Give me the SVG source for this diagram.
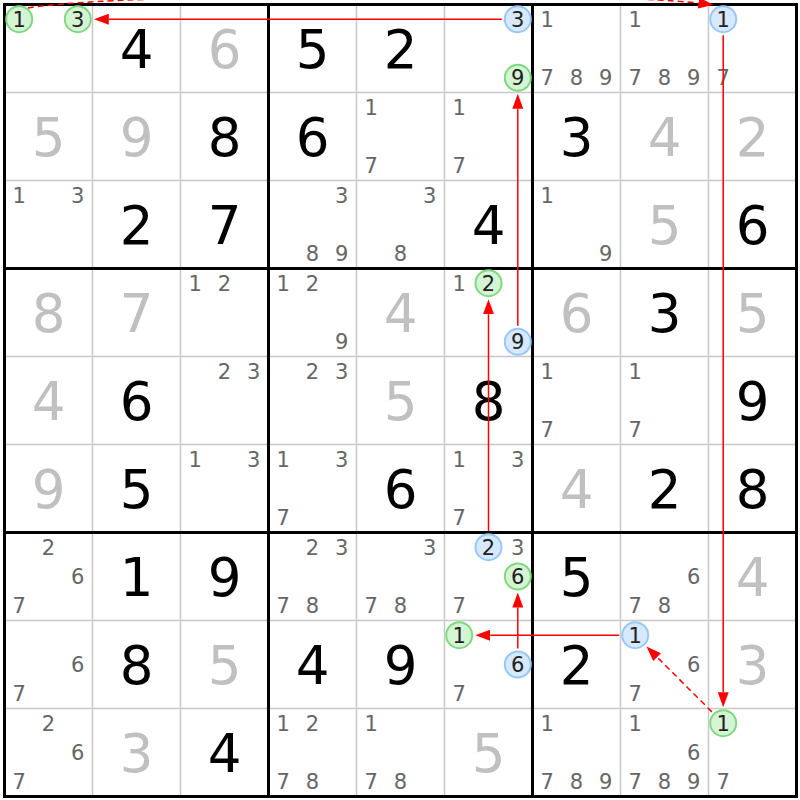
<svg xmlns="http://www.w3.org/2000/svg" width="800" height="800" viewBox="0 0 800 800">
<style>
.thin{stroke:#c8c8c8;stroke-width:1.5}
.thick{stroke:#000;stroke-width:3}
text{font-family:"DejaVu Sans",Verdana,sans-serif;text-anchor:middle}
.g{font-size:53px;fill:#000}
.s{font-size:53px;fill:#c0c0c0}
.c{font-size:21px;fill:#666}
.h{font-size:21px;fill:#222}
.cg{fill:#d4f4d4;stroke:#80d880;stroke-width:2}
.cb{fill:#d6e9ff;stroke:#99c8f8;stroke-width:2}
.link{stroke:#f00;stroke-width:1.5;fill:none;marker-end:url(#ah)}
.weak{stroke-dasharray:6 4}
</style>
<defs>
<marker id="ah" markerUnits="userSpaceOnUse" markerWidth="15" markerHeight="11" viewBox="0 0 15 11" refX="0" refY="5.5" orient="auto"><path d="M0,0 L15,5.5 L0,11 z" fill="#f00"/></marker>
</defs>
<rect x="0" y="0" width="800" height="800" fill="#fff"/>
<g id="grid">
<g class="thin">
<line x1="92.5" y1="4.5" x2="92.5" y2="796.5"/><line x1="180.5" y1="4.5" x2="180.5" y2="796.5"/>
<line x1="356.5" y1="4.5" x2="356.5" y2="796.5"/><line x1="444.5" y1="4.5" x2="444.5" y2="796.5"/>
<line x1="620.5" y1="4.5" x2="620.5" y2="796.5"/><line x1="708.5" y1="4.5" x2="708.5" y2="796.5"/>
<line y1="92.5" x1="4.5" y2="92.5" x2="796.5"/><line y1="180.5" x1="4.5" y2="180.5" x2="796.5"/>
<line y1="356.5" x1="4.5" y2="356.5" x2="796.5"/><line y1="444.5" x1="4.5" y2="444.5" x2="796.5"/>
<line y1="620.5" x1="4.5" y2="620.5" x2="796.5"/><line y1="708.5" x1="4.5" y2="708.5" x2="796.5"/>
</g>
<g class="thick">
<line x1="268.5" y1="4.5" x2="268.5" y2="796.5"/><line x1="532.5" y1="4.5" x2="532.5" y2="796.5"/>
<line y1="268.5" x1="4.5" y2="268.5" x2="796.5"/><line y1="532.5" x1="4.5" y2="532.5" x2="796.5"/>
<rect x="4.5" y="4.5" width="792" height="792" fill="none"/>
</g>
</g>
<g id="cells">
<!-- Row 0 -->
<g id="r0c0"><circle class="cg" cx="19.2" cy="19.2" r="13"/><text class="h" x="19.2" y="26.8">1</text><circle class="cg" cx="77.8" cy="19.2" r="13"/><text class="h" x="77.8" y="26.8">3</text></g>
<g id="r0c1"><text class="g" x="136.5" y="67.8">4</text></g>
<g id="r0c2"><text class="s" x="224.5" y="67.8">6</text></g>
<g id="r0c3"><text class="g" x="312.5" y="67.8">5</text></g>
<g id="r0c4"><text class="g" x="400.5" y="67.8">2</text></g>
<g id="r0c5"><circle class="cb" cx="517.8" cy="19.2" r="13"/><text class="h" x="517.8" y="26.8">3</text><circle class="cg" cx="517.8" cy="77.8" r="13"/><text class="h" x="517.8" y="85.4">9</text></g>
<g id="r0c6"><text class="c" x="547.2" y="26.8">1</text><text class="c" x="547.2" y="85.4">7</text><text class="c" x="576.5" y="85.4">8</text><text class="c" x="605.8" y="85.4">9</text></g>
<g id="r0c7"><text class="c" x="635.2" y="26.8">1</text><text class="c" x="635.2" y="85.4">7</text><text class="c" x="664.5" y="85.4">8</text><text class="c" x="693.8" y="85.4">9</text></g>
<g id="r0c8"><circle class="cb" cx="723.2" cy="19.2" r="13"/><text class="h" x="723.2" y="26.8">1</text><text class="c" x="723.2" y="85.4">7</text></g>
<!-- Row 1 -->
<g id="r1c0"><text class="s" x="48.5" y="155.8">5</text></g>
<g id="r1c1"><text class="s" x="136.5" y="155.8">9</text></g>
<g id="r1c2"><text class="g" x="224.5" y="155.8">8</text></g>
<g id="r1c3"><text class="g" x="312.5" y="155.8">6</text></g>
<g id="r1c4"><text class="c" x="371.2" y="114.8">1</text><text class="c" x="371.2" y="173.4">7</text></g>
<g id="r1c5"><text class="c" x="459.2" y="114.8">1</text><text class="c" x="459.2" y="173.4">7</text></g>
<g id="r1c6"><text class="g" x="576.5" y="155.8">3</text></g>
<g id="r1c7"><text class="s" x="664.5" y="155.8">4</text></g>
<g id="r1c8"><text class="s" x="752.5" y="155.8">2</text></g>
<!-- Row 2 -->
<g id="r2c0"><text class="c" x="19.2" y="202.8">1</text><text class="c" x="77.8" y="202.8">3</text></g>
<g id="r2c1"><text class="g" x="136.5" y="243.8">2</text></g>
<g id="r2c2"><text class="g" x="224.5" y="243.8">7</text></g>
<g id="r2c3"><text class="c" x="341.8" y="202.8">3</text><text class="c" x="312.5" y="261.4">8</text><text class="c" x="341.8" y="261.4">9</text></g>
<g id="r2c4"><text class="c" x="429.8" y="202.8">3</text><text class="c" x="400.5" y="261.4">8</text></g>
<g id="r2c5"><text class="g" x="488.5" y="243.8">4</text></g>
<g id="r2c6"><text class="c" x="547.2" y="202.8">1</text><text class="c" x="605.8" y="261.4">9</text></g>
<g id="r2c7"><text class="s" x="664.5" y="243.8">5</text></g>
<g id="r2c8"><text class="g" x="752.5" y="243.8">6</text></g>
<!-- Row 3 -->
<g id="r3c0"><text class="s" x="48.5" y="331.8">8</text></g>
<g id="r3c1"><text class="s" x="136.5" y="331.8">7</text></g>
<g id="r3c2"><text class="c" x="195.2" y="290.8">1</text><text class="c" x="224.5" y="290.8">2</text></g>
<g id="r3c3"><text class="c" x="283.2" y="290.8">1</text><text class="c" x="312.5" y="290.8">2</text><text class="c" x="341.8" y="349.4">9</text></g>
<g id="r3c4"><text class="s" x="400.5" y="331.8">4</text></g>
<g id="r3c5"><text class="c" x="459.2" y="290.8">1</text><circle class="cg" cx="488.5" cy="283.2" r="13"/><text class="h" x="488.5" y="290.8">2</text><circle class="cb" cx="517.8" cy="341.8" r="13"/><text class="h" x="517.8" y="349.4">9</text></g>
<g id="r3c6"><text class="s" x="576.5" y="331.8">6</text></g>
<g id="r3c7"><text class="g" x="664.5" y="331.8">3</text></g>
<g id="r3c8"><text class="s" x="752.5" y="331.8">5</text></g>
<!-- Row 4 -->
<g id="r4c0"><text class="s" x="48.5" y="419.8">4</text></g>
<g id="r4c1"><text class="g" x="136.5" y="419.8">6</text></g>
<g id="r4c2"><text class="c" x="224.5" y="378.8">2</text><text class="c" x="253.8" y="378.8">3</text></g>
<g id="r4c3"><text class="c" x="312.5" y="378.8">2</text><text class="c" x="341.8" y="378.8">3</text></g>
<g id="r4c4"><text class="s" x="400.5" y="419.8">5</text></g>
<g id="r4c5"><text class="g" x="488.5" y="419.8">8</text></g>
<g id="r4c6"><text class="c" x="547.2" y="378.8">1</text><text class="c" x="547.2" y="437.4">7</text></g>
<g id="r4c7"><text class="c" x="635.2" y="378.8">1</text><text class="c" x="635.2" y="437.4">7</text></g>
<g id="r4c8"><text class="g" x="752.5" y="419.8">9</text></g>
<!-- Row 5 -->
<g id="r5c0"><text class="s" x="48.5" y="507.8">9</text></g>
<g id="r5c1"><text class="g" x="136.5" y="507.8">5</text></g>
<g id="r5c2"><text class="c" x="195.2" y="466.8">1</text><text class="c" x="253.8" y="466.8">3</text></g>
<g id="r5c3"><text class="c" x="283.2" y="466.8">1</text><text class="c" x="341.8" y="466.8">3</text><text class="c" x="283.2" y="525.4">7</text></g>
<g id="r5c4"><text class="g" x="400.5" y="507.8">6</text></g>
<g id="r5c5"><text class="c" x="459.2" y="466.8">1</text><text class="c" x="517.8" y="466.8">3</text><text class="c" x="459.2" y="525.4">7</text></g>
<g id="r5c6"><text class="s" x="576.5" y="507.8">4</text></g>
<g id="r5c7"><text class="g" x="664.5" y="507.8">2</text></g>
<g id="r5c8"><text class="g" x="752.5" y="507.8">8</text></g>
<!-- Row 6 -->
<g id="r6c0"><text class="c" x="48.5" y="554.8">2</text><text class="c" x="77.8" y="584.1">6</text><text class="c" x="19.2" y="613.4">7</text></g>
<g id="r6c1"><text class="g" x="136.5" y="595.8">1</text></g>
<g id="r6c2"><text class="g" x="224.5" y="595.8">9</text></g>
<g id="r6c3"><text class="c" x="312.5" y="554.8">2</text><text class="c" x="341.8" y="554.8">3</text><text class="c" x="283.2" y="613.4">7</text><text class="c" x="312.5" y="613.4">8</text></g>
<g id="r6c4"><text class="c" x="429.8" y="554.8">3</text><text class="c" x="371.2" y="613.4">7</text><text class="c" x="400.5" y="613.4">8</text></g>
<g id="r6c5"><circle class="cb" cx="488.5" cy="547.2" r="13"/><text class="h" x="488.5" y="554.8">2</text><text class="c" x="517.8" y="554.8">3</text><circle class="cg" cx="517.8" cy="576.5" r="13"/><text class="h" x="517.8" y="584.1">6</text><text class="c" x="459.2" y="613.4">7</text></g>
<g id="r6c6"><text class="g" x="576.5" y="595.8">5</text></g>
<g id="r6c7"><text class="c" x="693.8" y="584.1">6</text><text class="c" x="635.2" y="613.4">7</text><text class="c" x="664.5" y="613.4">8</text></g>
<g id="r6c8"><text class="s" x="752.5" y="595.8">4</text></g>
<!-- Row 7 -->
<g id="r7c0"><text class="c" x="77.8" y="672.1">6</text><text class="c" x="19.2" y="701.4">7</text></g>
<g id="r7c1"><text class="g" x="136.5" y="683.8">8</text></g>
<g id="r7c2"><text class="s" x="224.5" y="683.8">5</text></g>
<g id="r7c3"><text class="g" x="312.5" y="683.8">4</text></g>
<g id="r7c4"><text class="g" x="400.5" y="683.8">9</text></g>
<g id="r7c5"><circle class="cg" cx="459.2" cy="635.2" r="13"/><text class="h" x="459.2" y="642.8">1</text><circle class="cb" cx="517.8" cy="664.5" r="13"/><text class="h" x="517.8" y="672.1">6</text><text class="c" x="459.2" y="701.4">7</text></g>
<g id="r7c6"><text class="g" x="576.5" y="683.8">2</text></g>
<g id="r7c7"><circle class="cb" cx="635.2" cy="635.2" r="13"/><text class="h" x="635.2" y="642.8">1</text><text class="c" x="693.8" y="672.1">6</text><text class="c" x="635.2" y="701.4">7</text></g>
<g id="r7c8"><text class="s" x="752.5" y="683.8">3</text></g>
<!-- Row 8 -->
<g id="r8c0"><text class="c" x="48.5" y="730.8">2</text><text class="c" x="77.8" y="760.1">6</text><text class="c" x="19.2" y="789.4">7</text></g>
<g id="r8c1"><text class="s" x="136.5" y="771.8">3</text></g>
<g id="r8c2"><text class="g" x="224.5" y="771.8">4</text></g>
<g id="r8c3"><text class="c" x="283.2" y="730.8">1</text><text class="c" x="312.5" y="730.8">2</text><text class="c" x="283.2" y="789.4">7</text><text class="c" x="312.5" y="789.4">8</text></g>
<g id="r8c4"><text class="c" x="371.2" y="730.8">1</text><text class="c" x="371.2" y="789.4">7</text><text class="c" x="400.5" y="789.4">8</text></g>
<g id="r8c5"><text class="s" x="488.5" y="771.8">5</text></g>
<g id="r8c6"><text class="c" x="547.2" y="730.8">1</text><text class="c" x="547.2" y="789.4">7</text><text class="c" x="576.5" y="789.4">8</text><text class="c" x="605.8" y="789.4">9</text></g>
<g id="r8c7"><text class="c" x="635.2" y="730.8">1</text><text class="c" x="693.8" y="760.1">6</text><text class="c" x="635.2" y="789.4">7</text><text class="c" x="664.5" y="789.4">8</text><text class="c" x="693.8" y="789.4">9</text></g>
<g id="r8c8"><circle class="cg" cx="723.2" cy="723.2" r="13"/><text class="h" x="723.2" y="730.8">1</text><text class="c" x="723.2" y="789.4">7</text></g>
</g>
<g id="connectors">
<line class="link" x1="501.8" y1="19.2" x2="108.8" y2="19.2"/>
<path class="link weak" d="M28,8 C120,-8 600,-8 698.5,3"/>
<line class="link" x1="723.2" y1="35.2" x2="723.2" y2="692.2"/>
<line class="link weak" x1="711.9" y1="711.9" x2="657.1" y2="657.1"/>
<line class="link" x1="619.2" y1="635.2" x2="490.2" y2="635.2"/>
<line class="link" x1="517.8" y1="648.5" x2="517.8" y2="607.5"/>
<line class="link" x1="488.5" y1="531.2" x2="488.5" y2="314.2"/>
<line class="link" x1="517.8" y1="325.8" x2="517.8" y2="108.8"/>
</g>
</svg>
